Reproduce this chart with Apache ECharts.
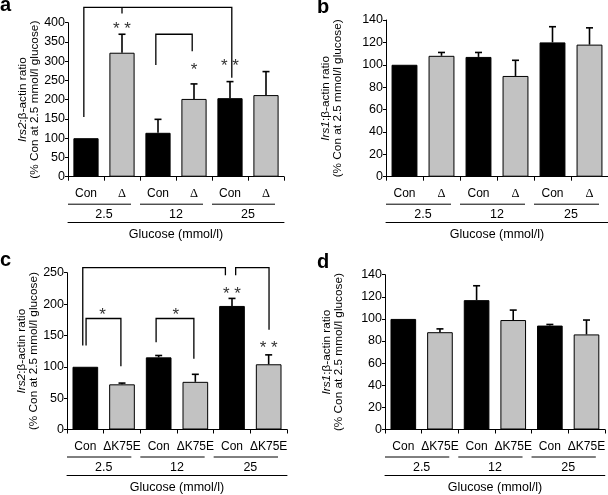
<!DOCTYPE html>
<html><head><meta charset="utf-8">
<script src="https://cdn.jsdelivr.net/npm/echarts@6/dist/echarts.min.js"></script>
<style>html,body{margin:0;padding:0;background:#fff}#c{width:608px;height:495px}</style>
</head><body><div id="c"></div>
<script>
// ---- data ----
const catsAB = ['Con', 'Δ', 'Con', 'Δ', 'Con', 'Δ'];
const catsCD = ['Con', 'ΔK75E', 'Con', 'ΔK75E', 'Con', 'ΔK75E'];
const groupLabels = ['2.5', '12', '25'];
const xTitle = 'Glucose (mmol/l)';

const aMean = [100, 322, 114, 202, 204, 212];
const aErr  = [null, 370, 149, 241, 247, 273];
const bMean = [100, 108, 107, 90, 120, 118];
const bErr  = [null, 111, 111, 104, 134, 133];
const cMean = [100, 72, 115, 76, 197, 104];
const cErr  = [null, 74, 118, 88, 209, 119];
const dMean = [100, 88, 117, 99, 94, 86];
const dErr  = [null, 91, 130, 108, 95, 99];

// significance brackets: [category index, value] vertices
const aBrackets = [
  [[-0.06, 155], [-0.06, 440], [4.05, 440], [4.05, 257]],
  [[1, 440], [1, 424]],
  [[1.94, 290], [1.94, 370], [2.95, 370], [2.95, 326]]
];
const cBrackets = [
  [[-0.07, 134], [-0.07, 258], [3.82, 258], [3.82, 246]],
  [[4.1, 246], [4.1, 258], [5.01, 258], [5.01, 159]],
  [[0.02, 134], [0.02, 177], [0.97, 177], [0.97, 101]],
  [[1.93, 139], [1.93, 177], [2.96, 177], [2.96, 113]]
];
const aStars = [[1, 390, '* *'], [3, 283, '*'], [4, 294, '* *']];
const cStars = [[0.47, 187, '*'], [2.47, 187, '*'], [4, 221, '* *'], [5, 134, '* *']];

const yNames = [
  '{it|Irs2}{n|:β-actin ratio}\n{n|(% Con at 2.5 mmol/l glucose)}',
  '{it|Irs1}{n|:β-actin ratio}\n{n|(% Con at 2.5 mmol/l glucose)}',
  '{it|Irs2}{n|:β-actin ratio}\n{n|(% Con at 2.5 mmol/l glucose)}',
  '{it|Irs1}{n|:β-actin ratio}\n{n|(% Con at 2.5 mmol/l glucose)}'
];
const yRanges = [[0, 400, 50], [0, 140, 20], [0, 250, 50], [0, 140, 20]];
const panelLetters = ['a', 'b', 'c', 'd'];

// ---- layout ----
const FONT = 'Liberation Sans, Arial, sans-serif';
const FS = 12.5;
const CFS = 12;
const grids = [
  {left: 68, top: 22.7, width: 216, height: 154},
  {left: 386, top: 20, width: 222, height: 156.7},
  {left: 67, top: 272.7, width: 220, height: 158},
  {left: 385, top: 274.7, width: 222, height: 156}
];
const nameGaps = [26, 42, 27, 40];
const letterPos = [[0, 6.5], [317, 8], [0, 261.5], [317, 263]];
const panels = [
  {cats: catsAB, mean: aMean, err: aErr, brackets: aBrackets, stars: aStars},
  {cats: catsAB, mean: bMean, err: bErr, brackets: [], stars: []},
  {cats: catsCD, mean: cMean, err: cErr, brackets: cBrackets, stars: cStars},
  {cats: catsCD, mean: dMean, err: dErr, brackets: [], stars: []}
];

const xAxis = [], yAxis = [], series = [], graphic = [];
panels.forEach((p, i) => {
  xAxis.push({
    type: 'category', gridIndex: i, data: p.cats,
    axisLine: {lineStyle: {color: '#000', width: 1}},
    axisTick: {show: true, length: 4, lineStyle: {color: '#000'}},
    axisLabel: {
      color: '#000', fontSize: CFS, fontFamily: FONT, margin: 11, interval: 0,
      formatter: v => v === 'Δ' ? '{d|Δ}' : v,
      rich: {d: {fontFamily: 'Liberation Serif, Times New Roman, serif', fontSize: 12.5, color: '#000'}}
    }
  });
  yAxis.push({
    type: 'value', gridIndex: i, min: yRanges[i][0], max: yRanges[i][1], interval: yRanges[i][2],
    axisLine: {show: true, lineStyle: {color: '#000', width: 1}},
    axisTick: {show: true, length: 3, lineStyle: {color: '#000'}},
    splitLine: {show: false},
    axisLabel: {color: '#000', fontSize: FS, fontFamily: FONT, margin: 3},
    name: yNames[i], nameLocation: 'middle', nameRotate: 90, nameGap: nameGaps[i],
    nameTextStyle: {
      color: '#000', fontFamily: FONT, fontSize: 11.8, lineHeight: 12,
      rich: {
        it: {fontStyle: 'italic', fontFamily: FONT, fontSize: 11.8, lineHeight: 12, color: '#000'},
        n: {fontFamily: FONT, fontSize: 11.8, lineHeight: 12, color: '#000'}
      }
    }
  });
  graphic.push({
    type: 'text', left: letterPos[i][0], top: letterPos[i][1] - 11,
    style: {text: panelLetters[i], font: 'bold 20px ' + FONT, fill: '#000'}
  });
});
// group axes
panels.forEach((p, i) => {
  xAxis.push({
    type: 'category', gridIndex: i, data: groupLabels, position: 'bottom', offset: 45.5,
    axisLine: {show: true, lineStyle: {color: '#000', width: 1}},
    axisTick: {show: false},
    axisLabel: {inside: true, margin: 1, color: '#000', fontSize: FS, fontFamily: FONT},
    name: xTitle, nameLocation: 'middle', nameGap: 6,
    nameTextStyle: {color: '#000', fontSize: FS, fontFamily: FONT, verticalAlign: 'top'}
  });
});

panels.forEach((p, i) => {
  series.push({
    type: 'bar', xAxisIndex: i, yAxisIndex: i, data: p.mean,
    barCategoryGap: '30%',
    itemStyle: {
      color: params => params.dataIndex % 2 ? '#c2c2c2' : '#000',
      borderColor: '#000', borderWidth: 1
    },
    silent: true
  });
  // error bars
  series.push({
    type: 'custom', xAxisIndex: i, yAxisIndex: i, clip: false, silent: true, z: 5,
    data: p.mean.map((m, k) => [k, m, p.err[k]]).filter(d => d[2] !== null),
    renderItem: (params, api) => {
      const a = api.coord([api.value(0), api.value(1)]);
      const b = api.coord([api.value(0), api.value(2)]);
      return {type: 'group', children: [
        {type: 'line', shape: {x1: a[0], y1: a[1], x2: b[0], y2: b[1]}, style: {stroke: '#000', lineWidth: 1.6}},
        {type: 'line', shape: {x1: b[0] - 3.5, y1: b[1], x2: b[0] + 3.5, y2: b[1]}, style: {stroke: '#000', lineWidth: 1.6}}
      ]};
    }
  });
  // group underline segments
  series.push({
    type: 'custom', xAxisIndex: i, yAxisIndex: i, clip: false, silent: true,
    data: groupLabels.map((g, k) => [k, 0]),
    renderItem: (params, api) => {
      const g = params.dataIndex;
      const o = api.coord([0, 0]);
      const bw = api.size([1, 0])[0];
      const x1 = o[0] + (2 * g - 0.5) * bw;
      const x2 = o[0] + (2 * g + 1.5) * bw - 9;
      const y = o[1] + 27.5;
      return {type: 'line', shape: {x1, y1: y, x2, y2: y}, style: {stroke: '#000', lineWidth: 1}};
    }
  });
  if (p.brackets.length) {
    series.push({
      type: 'custom', xAxisIndex: i, yAxisIndex: i, clip: false, silent: true,
      data: p.brackets.map((b, k) => [0, 0]),
      renderItem: (params, api) => {
        const pts = p.brackets[params.dataIndex];
        const x0 = api.coord([0, 0])[0];
        const bw = api.size([1, 0])[0];
        const points = pts.map(q => [x0 + q[0] * bw, api.coord([0, q[1]])[1]]);
        return {type: 'polyline', shape: {points}, style: {stroke: '#000', lineWidth: 1.3, fill: null}};
      }
    });
  }
  if (p.stars.length) {
    series.push({
      type: 'custom', xAxisIndex: i, yAxisIndex: i, clip: false, silent: true,
      data: p.stars.map(s => [0, s[1]]),
      renderItem: (params, api) => {
        const s = p.stars[params.dataIndex];
        const x0 = api.coord([0, 0])[0];
        const bw = api.size([1, 0])[0];
        const y = api.coord([0, s[1]])[1];
        return {type: 'text', style: {text: s[2], x: x0 + s[0] * bw, y: y + 3, align: 'center', verticalAlign: 'middle',
          font: '17px ' + FONT, fill: '#333'}};
      }
    });
  }
});

const chart = echarts.init(document.getElementById('c'), null, {renderer: 'canvas'});
chart.setOption({
  animation: false,
  backgroundColor: '#fff',
  graphic, grid: grids, xAxis, yAxis, series
});
</script></body></html>
